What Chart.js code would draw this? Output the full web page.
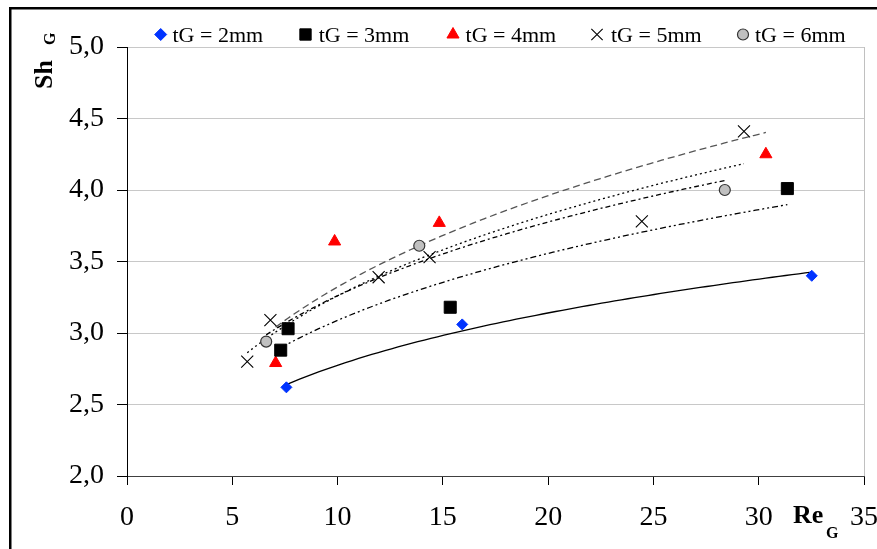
<!DOCTYPE html>
<html>
<head>
<meta charset="utf-8">
<script src="https://cdn.jsdelivr.net/npm/chart.js@4.4.1/dist/chart.umd.min.js"></script>
<style>
  html,body{margin:0;padding:0;background:#fff;overflow:hidden;}
  canvas{display:block;}
</style>
</head>
<body>
<canvas id="c" width="877" height="549"></canvas>
<script>
// ---- data ----
const seriesNames = ['tG = 2mm', 'tG = 3mm', 'tG = 4mm', 'tG = 5mm', 'tG = 6mm'];

const reG_2mm = [7.57, 15.92, 32.52];
const shG_2mm = [2.62, 3.06, 3.40];

const reG_3mm = [7.30, 7.65, 15.35, 31.36];
const shG_3mm = [2.88, 3.03, 3.18, 4.01];

const reG_4mm = [7.06, 9.86, 14.83, 30.34];
const shG_4mm = [2.79, 3.64, 3.77, 4.25];

const reG_5mm = [5.71, 6.81, 11.95, 14.37, 24.45, 29.30];
const shG_5mm = [2.80, 3.09, 3.39, 3.53, 3.78, 4.41];

const reG_6mm = [6.61, 13.88, 28.39];
const shG_6mm = [2.94, 3.61, 4.00];

const xTickValues = [0, 5, 10, 15, 20, 25, 30, 35];
const yTickLabels = ['2,0', '2,5', '3,0', '3,5', '4,0', '4,5', '5,0'];

// ---- styles ----
const FONT = "'Liberation Serif', 'Times New Roman', serif";
const styles = [
  {pointStyle:'rectRot',  radius:5.5, bg:'#0033ff', border:'#0033ff', bw:1, trend:{dash:[], color:'#000'}},
  {pointStyle:'rect',     radius:8.5, bg:'#000000', border:'#000000', bw:1, trend:{dash:[6,3,2,3,2,3], color:'#000'}},
  {pointStyle:'triangle', radius:7,   bg:'#ff0000', border:'#ff0000', bw:1, trend:{dash:[7,4], color:'#555'}},
  {pointStyle:'crossRot', radius:8.5, bg:'#000000', border:'#000000', bw:1.1, trend:{dash:[2,3], color:'#000'}},
  {pointStyle:'circle',   radius:5.5, bg:'#c0c0c0', border:'#333333', bw:1.2, trend:{dash:[5,3,2,3], color:'#000'}}
];
const xsAll = [reG_2mm, reG_3mm, reG_4mm, reG_5mm, reG_6mm];
const ysAll = [shG_2mm, shG_3mm, shG_4mm, shG_5mm, shG_6mm];

const datasets = xsAll.map((xs, i) => ({
  label: seriesNames[i],
  data: xs.map((x, j) => ({x: x, y: ysAll[i][j]})),
  showLine: false,
  pointStyle: styles[i].pointStyle,
  pointRadius: styles[i].radius,
  pointHoverRadius: styles[i].radius,
  backgroundColor: styles[i].bg,
  borderColor: styles[i].border,
  pointBorderWidth: styles[i].bw
}));

// power trendline (least squares in log-log space, as a spreadsheet trendline)
function powerFit(xs, ys) {
  const lx = xs.map(Math.log), ly = ys.map(Math.log);
  const n = xs.length;
  const mx = lx.reduce((a,b)=>a+b,0)/n, my = ly.reduce((a,b)=>a+b,0)/n;
  let sxy = 0, sxx = 0;
  for (let i = 0; i < n; i++) { sxy += (lx[i]-mx)*(ly[i]-my); sxx += (lx[i]-mx)*(lx[i]-mx); }
  const b = sxy / sxx;
  const a = Math.exp(my - b*mx);
  return {a, b};
}

const trendPlugin = {
  id: 'trend',
  beforeDatasetsDraw(chart) {
    const ctx = chart.ctx, xs = chart.scales.x, ys = chart.scales.y;
    ctx.save();
    xsAll.forEach((xarr, i) => {
      const f = powerFit(xarr, ysAll[i]);
      const x0 = Math.min(...xarr), x1 = Math.max(...xarr);
      ctx.beginPath();
      const N = 80;
      for (let k = 0; k <= N; k++) {
        const xv = x0 + (x1 - x0) * k / N;
        const yv = f.a * Math.pow(xv, f.b);
        const px = xs.getPixelForValue(xv), py = ys.getPixelForValue(yv);
        if (k === 0) ctx.moveTo(px, py); else ctx.lineTo(px, py);
      }
      ctx.setLineDash(styles[i].trend.dash);
      ctx.strokeStyle = styles[i].trend.color;
      ctx.lineWidth = 1.3;
      ctx.stroke();
    });
    ctx.restore();
  }
};

const decorPlugin = {
  id: 'decor',
  beforeDraw(chart) {
    const ctx = chart.ctx;
    ctx.save();
    ctx.fillStyle = '#fff';
    ctx.fillRect(0, 0, chart.width, chart.height);
    // outer frame (top & left visible)
    ctx.fillStyle = '#000';
    ctx.fillRect(9, 7, chart.width, 2.5);
    ctx.fillRect(9, 7, 2.5, chart.height);
    ctx.restore();
  },
  afterDraw(chart) {
    const ctx = chart.ctx, ca = chart.chartArea;
    ctx.save();
    // right frame of plot area
    ctx.strokeStyle = '#c0c0c0';
    ctx.lineWidth = 1;
    ctx.beginPath();
    ctx.moveTo(Math.round(ca.right) + 0.5, ca.top);
    ctx.lineTo(Math.round(ca.right) + 0.5, ca.bottom);
    ctx.stroke();

    // legend
    const legendX = [160.7, 305.5, 453, 597, 743];
    const textX = [172.5, 318.7, 465.6, 611, 755];
    const legR = [6, 8, 7, 8, 5.5];
    ctx.font = "22px " + FONT;
    ctx.textBaseline = 'alphabetic';
    ctx.textAlign = 'left';
    seriesNames.forEach((name, i) => {
      ctx.fillStyle = styles[i].bg;
      ctx.strokeStyle = styles[i].border;
      ctx.lineWidth = styles[i].bw;
      Chart.helpers.drawPoint(ctx, {pointStyle: styles[i].pointStyle, radius: legR[i], borderWidth: styles[i].bw}, legendX[i], 34.5);
      ctx.fillStyle = '#000';
      ctx.fillText(name, textX[i], 42);
    });

    // axis titles
    ctx.fillStyle = '#000';
    ctx.font = "bold 26px " + FONT;
    ctx.fillText('Re', 793, 523);
    ctx.font = "bold 16px " + FONT;
    ctx.fillText('G', 826, 538);

    ctx.save();
    ctx.translate(52, 89);
    ctx.rotate(-Math.PI / 2);
    ctx.font = "bold 26px " + FONT;
    ctx.fillText('Sh', 0, 0);
    ctx.font = "bold 16px " + FONT;
    ctx.fillText('G', 44, 3);
    ctx.restore();
    ctx.restore();
  }
};

new Chart(document.getElementById('c'), {
  type: 'scatter',
  data: { datasets },
  options: {
    responsive: false,
    devicePixelRatio: 1,
    animation: false,
    layout: { padding: { top: 47, right: 13, left: 0, bottom: 0 } },
    plugins: { legend: { display: false }, tooltip: { enabled: false } },
    scales: {
      x: {
        type: 'linear', min: 0, max: 35,
        afterBuildTicks(s) { s.ticks = xTickValues.map(v => ({value: v})); },
        afterFit(s) { s.height = 73; s.paddingLeft = 0; s.paddingRight = 0; },
        grid: { drawOnChartArea: false, drawTicks: true, tickLength: 9, tickColor: '#000', tickWidth: 1 },
        border: { color: '#404040', width: 1 },
        ticks: { color: '#000', font: { family: FONT, size: 28 }, padding: 16, maxRotation: 0, autoSkip: false }
      },
      y: {
        type: 'linear', min: 2, max: 5,
        afterBuildTicks(s) { s.ticks = yTickLabels.map((t, i) => ({value: 2 + 0.5 * i})); },
        afterFit(s) { s.width = 127; },
        grid: { color: '#c8c8c8', lineWidth: 1, drawTicks: true, tickLength: 10, tickColor: '#000' },
        border: { color: '#000', width: 1 },
        ticks: {
          color: '#000', font: { family: FONT, size: 28 }, padding: 13, autoSkip: false,
          callback: (v, i) => yTickLabels[i]
        }
      }
    }
  },
  plugins: [decorPlugin, trendPlugin]
});
</script>
</body>
</html>
